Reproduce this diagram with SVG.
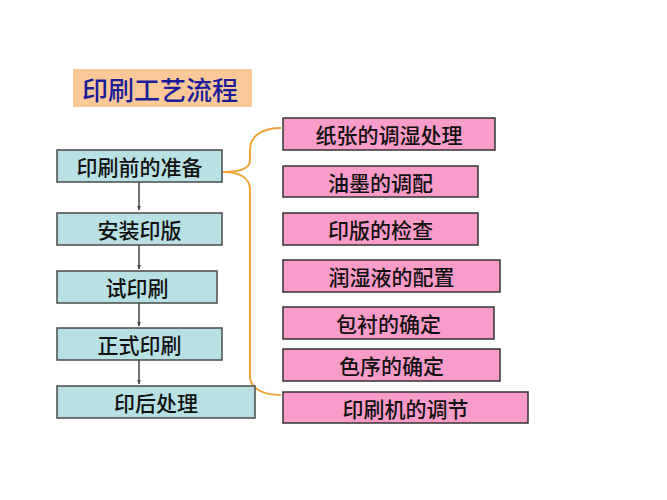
<svg xmlns="http://www.w3.org/2000/svg" width="667" height="500" viewBox="0 0 667 500">
<style>
.t{font-family:"Noto Sans CJK SC","Noto Sans",sans-serif;font-size:21px;font-weight:500;fill:#111;text-anchor:middle;dominant-baseline:central}
.lb{fill:#b9e1e5;stroke:#4a4a4a;stroke-width:1.5}
.pb{fill:#f99cc9;stroke:#333;stroke-width:1.5}
.ar{stroke:#444;stroke-width:1.5;fill:none;marker-end:url(#ah)}
</style>
<defs>
<marker id="ah" viewBox="0 0 10 10" refX="9" refY="5" markerWidth="5" markerHeight="5" orient="auto" markerUnits="userSpaceOnUse">
<path d="M0,1 L10,5 L0,9 z" fill="#444"/>
</marker>
</defs>
<rect width="667" height="500" fill="#fff"/>
<g id="title">
<rect x="73" y="69" width="179" height="38" fill="#fbc998"/>
<text x="160" y="88" class="t" style="font-size:26px;fill:#1c1c9a">印刷工艺流程</text>
</g>
<g id="connectors">
<line class="ar" x1="139" y1="182" x2="139" y2="210"/>
<line class="ar" x1="139" y1="245" x2="139" y2="269"/>
<line class="ar" x1="139" y1="303" x2="139" y2="326"/>
<line class="ar" x1="139" y1="360" x2="139" y2="384"/>
<path d="M281,128 C262,128 250,136 250,150 L250,160 C250,168 240,172 223,172 C240,172 250,178 250,190 L250,376 C250,388 262,395 281,395" fill="none" stroke="#eea53a" stroke-width="2"/>
</g>
<g id="n1"><rect class="lb" x="57" y="150" width="165" height="32"/><text class="t" x="139.5" y="166">印刷前的准备</text></g>
<g id="n2"><rect class="lb" x="57" y="213" width="165" height="32"/><text class="t" x="139.5" y="229">安装印版</text></g>
<g id="n3"><rect class="lb" x="57" y="271" width="160" height="32"/><text class="t" x="137" y="287">试印刷</text></g>
<g id="n4"><rect class="lb" x="57" y="328" width="165" height="32"/><text class="t" x="139.5" y="344">正式印刷</text></g>
<g id="n5"><rect class="lb" x="57" y="386" width="198" height="32"/><text class="t" x="156" y="402">印后处理</text></g>
<g id="p1"><rect class="pb" x="283" y="118" width="212" height="32"/><text class="t" x="389" y="134">纸张的调湿处理</text></g>
<g id="p2"><rect class="pb" x="283" y="166" width="195" height="31"/><text class="t" x="380.5" y="181.5">油墨的调配</text></g>
<g id="p3"><rect class="pb" x="283" y="213" width="195" height="32"/><text class="t" x="380.5" y="229">印版的检查</text></g>
<g id="p4"><rect class="pb" x="283" y="260" width="217" height="32"/><text class="t" x="391.5" y="276">润湿液的配置</text></g>
<g id="p5"><rect class="pb" x="283" y="307" width="211" height="32"/><text class="t" x="388.5" y="323">包衬的确定</text></g>
<g id="p6"><rect class="pb" x="283" y="349" width="217" height="32"/><text class="t" x="391.5" y="365">色序的确定</text></g>
<g id="p7"><rect class="pb" x="283" y="392" width="245" height="31"/><text class="t" x="405.5" y="407.5">印刷机的调节</text></g>
</svg>
